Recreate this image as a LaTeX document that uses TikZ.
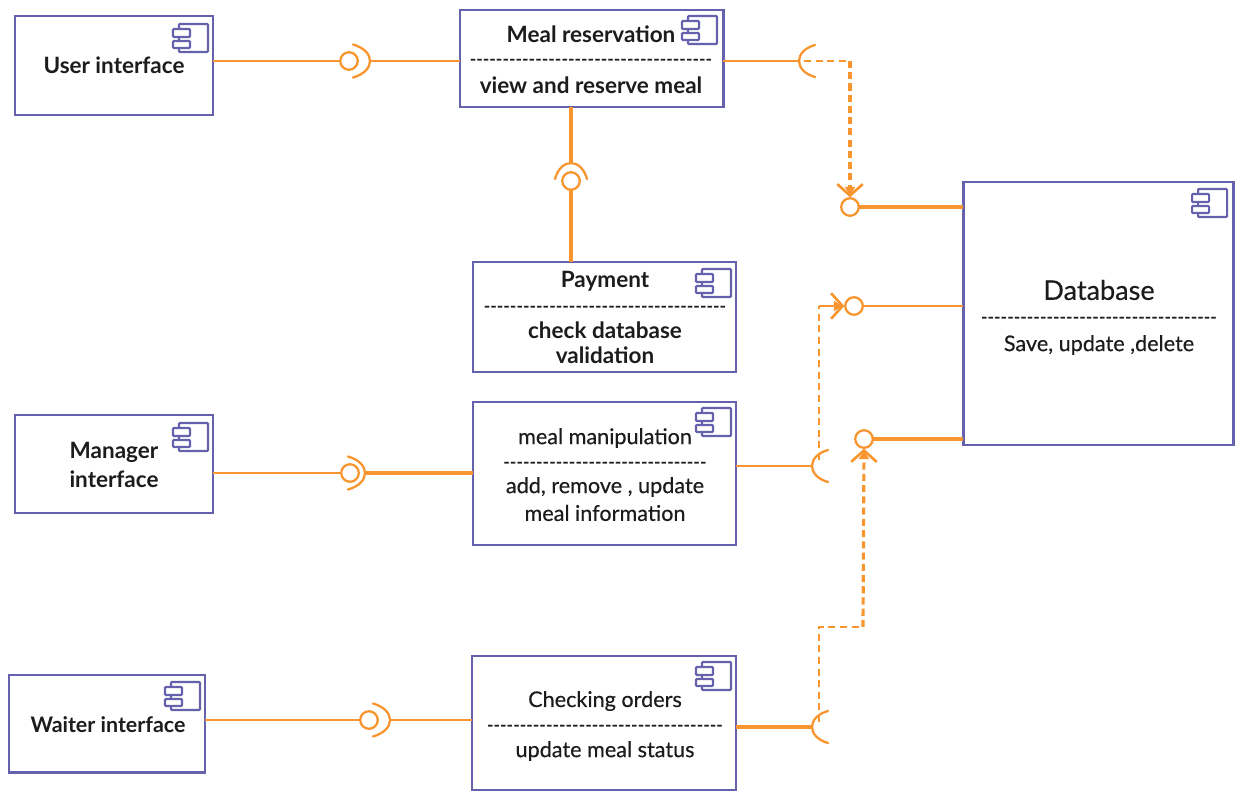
\documentclass[tikz,border=0pt]{standalone}
\usepackage{fontspec}
\setmainfont[Ligatures=TeXOff]{Lato}
\newfontfamily\medf[Ligatures=TeXOff,FakeBold=0.35]{Lato}
\usetikzlibrary{arrows.meta,calc}
\definecolor{ubox}{HTML}{6561AC}
\definecolor{uor}{HTML}{F8952F}
\definecolor{utxt}{HTML}{1C1C1C}
\tikzset{
  x=0.02cm,y=-0.02cm,
  compbox/.style={draw=ubox,line width=1.7pt,anchor=north west,inner sep=0pt,outer sep=0pt,fill=white},
  compthin/.style={compbox,line width=1.05pt},
  icon/.style={draw=ubox,line width=1.15pt,fill=white,rounded corners=0.4pt},
  ball/.style={circle,draw=uor,fill=white,inner sep=0pt,outer sep=0pt,minimum size=10pt,line width=1.3pt},
  sock/.style={draw=uor,line width=1.3pt,line cap=round},
  thinl/.style={draw=uor,line width=0.85pt},
  medl/.style={draw=uor,line width=1.1pt},
  thickl/.style={draw=uor,line width=1.8pt},
  thind/.style={thinl,dash pattern=on 4pt off 2.6pt},
  thickd/.style={thickl,dash pattern=on 4pt off 2.4pt},
  bt/.style={text=utxt,inner sep=0pt,font=\fontsize{12.8}{15}\selectfont\bfseries},
  mt/.style={text=utxt,inner sep=0pt,font=\fontsize{12.3}{15}\selectfont\medf},
  dt/.style={text=utxt,inner sep=0pt,font=\fontsize{10}{12}\selectfont\bfseries},
  barb/.style={-{Straight Barb[length=6.5pt,width=14.5pt,line width=1.5pt,sep=-6pt]Stealth[length=5pt,width=6pt,inset=0pt,line width=0pt]}},
}
\newcommand{\compicon}[2]{%
  \draw[icon] (#1+6,#2) rectangle (#1+35,#2+28);
  \draw[icon] (#1,#2+5) rectangle (#1+17,#2+13);
  \draw[icon] (#1,#2+17) rectangle (#1+17,#2+24);
}
\newcommand{\sockR}[1]{\draw[sock] ($(#1)+(-17,-16.5)$) .. controls ($(#1)+(5.7,-10)$) and ($(#1)+(5.7,10)$) .. ($(#1)+(-17,16.5)$);}
\newcommand{\sockL}[1]{\draw[sock] ($(#1)+(16,-16)$) .. controls ($(#1)+(-5.3,-10)$) and ($(#1)+(-5.3,10)$) .. ($(#1)+(16,16)$);}
\newcommand{\sockU}[1]{\draw[sock] ($(#1)+(-16,16)$) .. controls ($(#1)+(-10,-5.3)$) and ($(#1)+(10,-5.3)$) .. ($(#1)+(16,16)$);}
\begin{document}
\begin{tikzpicture}
\useasboundingbox (0,0) rectangle (1238,791);
\clip (0,0) rectangle (1238,791);
% boxes
\node[compbox,minimum width=198*0.02cm,minimum height=99*0.02cm] (user) at (15,16) {};
\node[compbox,minimum width=263*0.02cm,minimum height=97*0.02cm] (meal) at (460,10) {};
\node[compbox,line width=1.2pt,minimum width=263*0.02cm,minimum height=110*0.02cm] (pay) at (473,262) {};
\node[compthin,minimum width=198*0.02cm,minimum height=98*0.02cm] (mgr) at (15,415) {};
\node[compbox,line width=1.2pt,minimum width=263*0.02cm,minimum height=143*0.02cm] (manip) at (473,402) {};
\node[compbox,minimum width=196*0.02cm,minimum height=97*0.02cm] (waiter) at (9,675) {};
\node[compthin,minimum width=264*0.02cm,minimum height=134*0.02cm] (check) at (472,656) {};
\node[compbox,minimum width=270*0.02cm,minimum height=263*0.02cm] (db) at (963,182) {};
% icons
\compicon{173}{24}
\compicon{682}{16}
\compicon{696}{269}
\compicon{696}{408}
\compicon{173}{423}
\compicon{1192}{189}
\compicon{165}{682}
\compicon{696}{662}
% texts
\node[bt] (t1) at (114,65) {User interface};
\node[bt] (t2) at (591,34) {Meal reservation};
\node[dt] (t3) at (591,62) {-------------------------------------};
\node[bt] (t4) at (591,85) {view and reserve meal};
\node[bt] (t5) at (605,281) {Payment};
\node[dt] (t6) at (605,309) {-------------------------------------};
\node[bt] (t7) at (605,330) {check database};
\node[bt] (t8) at (605,355) {validation};
\node[bt] (t9) at (114,452) {Manager};
\node[bt] (t10) at (114,479) {interface};
\node[mt] (t11) at (605,438) {meal manipulation};
\node[dt] (t12) at (605,465) {-------------------------------};
\node[mt] (t13) at (605,487) {add, remove , update};
\node[mt] (t14) at (605,513) {meal information};
\node[bt,font=\fontsize{12.2}{15}\selectfont\bfseries] (t15) at (108,725) {Waiter interface};
\node[mt] (t16) at (605,701) {Checking orders};
\node[dt] (t17) at (605,728) {------------------------------------};
\node[mt] (t18) at (605,751) {update meal status};
\node[text=utxt,inner sep=0pt,font=\fontsize{15.4}{18}\selectfont\medf] (t19) at (1099,290) {Database};
\node[dt] (t20) at (1099,320) {------------------------------------};
\node[mt] (t21) at (1099,345) {Save, update ,delete};
% balls and sockets
\node[ball] (b1) at (349,61) {};
\coordinate (s1) at (370,61);
\node[ball] (b2) at (571,181) {};
\coordinate (s2) at (571,163);
\coordinate (s3) at (799,61);
\node[ball] (b3) at (850,207) {};
\node[ball] (b4) at (854,306) {};
\coordinate (s4) at (812,466);
\node[ball] (b5) at (864,439) {};
\node[ball] (b6) at (350,473) {};
\coordinate (s6) at (365,473);
\coordinate (s7) at (812,727);
\node[ball] (b7) at (369,720) {};
\coordinate (s8) at (390,720);
\coordinate (c1) at (850,61);
\coordinate (c2) at (819,306);
\coordinate (c3) at (819,627);
\coordinate (c4) at (863,627);
\coordinate (d1) at (819,460);
\coordinate (d2) at (819,722);
\coordinate (d3) at (804,61);
% connectors
\draw[medl] (user.east |- b1) -- (b1.west);
\draw[medl] (s1) -- (meal.west |- s1);
\draw[thickl] (meal.south -| b2) -- (s2);
\draw[thickl] (b2.south) -- (pay.north -| b2);
\draw[thinl] (meal.east |- s3) -- (s3);
\draw[thickd,barb,shorten >=1.5pt] (c1) -- (b3.north);
\draw[thind,line width=1.1pt] (d3) -- (c1);
\draw[thickl] (b3.east) -- (db.west |- b3);
\draw[thinl] (b4.east) -- (db.west |- b4);
\draw[thind] (d1) -- (c2);
\draw[thinl,barb,shorten >=1.5pt] (c2) -- (b4.west);
\draw[medl] (manip.east |- s4) -- (s4);
\draw[thickl] (b5.east) -- (db.south west |- b5);
\draw[thickl] (check.east |- s7) -- (s7);
\draw[thind] (d2) -- (c3) -- (c4);
\draw[thickd,barb,shorten >=1.5pt] (c4) -- (b5.south);
\draw[medl] (mgr.east |- b6) -- (b6.west);
\draw[thickl] (s6) -- (manip.west |- s6);
\draw[medl] (waiter.east |- b7) -- (b7.west);
\draw[medl] (s8) -- (check.west |- s8);
\sockR{s1}
\sockU{s2}
\sockL{s3}
\sockL{s4}
\sockL{s7}
\sockR{s6}
\sockR{s8}
\end{tikzpicture}
\end{document}
